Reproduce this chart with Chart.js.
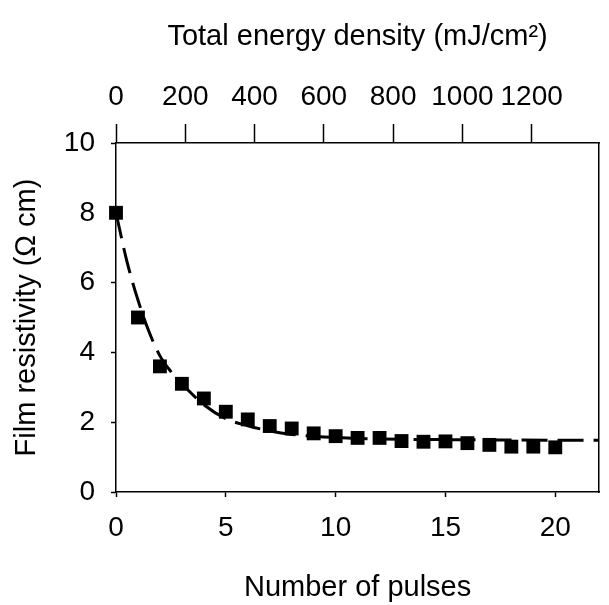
<!DOCTYPE html>
<html>
<head>
<meta charset="utf-8">
<script src="https://cdn.jsdelivr.net/npm/chart.js@4.4.1/dist/chart.umd.min.js"></script>
<style>
  html, body { margin: 0; padding: 0; background: #fff; }
  #wrap { width: 609px; height: 605px; }
</style>
</head>
<body>
<div id="wrap"><canvas id="chart" width="609" height="605"></canvas></div>
<script>
// --- Data ---
const pulses = [0, 1, 2, 3, 4, 5, 6, 7, 8, 9, 10, 11, 12, 13, 14, 15, 16, 17, 18, 19, 20];
const resistivity = [8.0, 5.0, 3.6, 3.1, 2.68, 2.3, 2.08, 1.89, 1.82, 1.68, 1.6,
  1.55, 1.55, 1.46, 1.44, 1.45, 1.4, 1.35, 1.3, 1.3, 1.28];

// dashed fit curve, sampled by eye
const fitX = [0, 0.5, 1, 1.5, 2, 2.5, 3, 4, 5, 6, 7, 8, 10, 12, 15, 18, 22];
const fitY = [8.0, 6.6, 5.5, 4.6, 3.9, 3.45, 3.1, 2.5, 2.1, 1.9, 1.75, 1.65, 1.56, 1.52, 1.5, 1.49, 1.48];

const pulseTicks = [0, 5, 10, 15, 20];
const energyTicks = [0, 200, 400, 600, 800, 1000, 1200];
const resistTicks = [0, 2, 4, 6, 8, 10];

const FONT = "'Liberation Sans', Arial, sans-serif";
const INK = "#000";

const points = pulses.map((p, i) => ({ x: p, y: resistivity[i] }));
const fit = fitX.map((x, i) => ({ x: x, y: fitY[i] }));

// --- fixed axis sizes so the plot box lands where it does in the picture ---
function fixWidth(w) { return (scale) => { scale.width = w; }; }
function fixHeight(h) { return (scale) => { scale.height = h; }; }
const plain = (v) => String(v);

const ctx = document.getElementById("chart").getContext("2d");
new Chart(ctx, {
  type: "scatter",
  data: {
    datasets: [
      {
        label: "Fit",
        data: fit,
        showLine: true,
        borderColor: INK,
        borderWidth: 3,
        borderDash: [26, 10],
        pointRadius: 0,
        tension: 0.4,
        cubicInterpolationMode: "monotone",
        fill: false,
      },
      {
        label: "Film resistivity",
        data: points,
        pointStyle: "rect",
        pointRadius: 9.8,
        backgroundColor: INK,
        borderColor: INK,
        borderWidth: 0,
        clip: false,
      },
    ],
  },
  options: {
    responsive: false,
    animation: false,
    layout: { padding: 0 },
    plugins: { legend: { display: false }, tooltip: { enabled: false } },
    scales: {
      x: {
        type: "linear",
        position: "bottom",
        min: 0,
        max: 22,
        afterFit: fixHeight(113),
        afterBuildTicks: (s) => { s.ticks = pulseTicks.map((v) => ({ value: v })); },
        border: { display: true, color: INK, width: 1.5 },
        grid: { drawOnChartArea: false, drawTicks: true, tickLength: 5, tickWidth: 1.5, tickColor: INK },
        ticks: { color: INK, padding: 14, callback: plain, font: { family: FONT, size: 28 } },
        title: {
          display: true,
          text: "Number of pulses",
          color: INK,
          padding: { top: 0, bottom: 0 },
          font: { family: FONT, size: 29 },
        },
      },
      x2: {
        type: "linear",
        position: "top",
        min: 0,
        max: 1395,
        afterFit: fixHeight(143),
        afterBuildTicks: (s) => { s.ticks = energyTicks.map((v) => ({ value: v })); },
        border: { display: true, color: INK, width: 1.5 },
        grid: { drawOnChartArea: false, drawTicks: true, tickLength: 19, tickWidth: 1.5, tickColor: INK },
        ticks: { color: INK, padding: 10, maxRotation: 0, autoSkip: false, callback: plain, font: { family: FONT, size: 28 } },
        title: {
          display: true,
          text: "Total energy density (mJ/cm²)",
          color: INK,
          padding: { top: 20, bottom: 0 },
          font: { family: FONT, size: 29 },
        },
      },
      y: {
        type: "linear",
        position: "left",
        min: 0,
        max: 10,
        afterFit: fixWidth(116),
        afterBuildTicks: (s) => { s.ticks = resistTicks.map((v) => ({ value: v })); },
        border: { display: true, color: INK, width: 1.5 },
        grid: { drawOnChartArea: false, drawTicks: true, tickLength: 5, tickWidth: 1.5, tickColor: INK },
        ticks: { color: INK, padding: 16, callback: plain, font: { family: FONT, size: 28 } },
        title: {
          display: true,
          text: "Film resistivity (Ω cm)",
          color: INK,
          padding: { top: 10, bottom: 0 },
          font: { family: FONT, size: 29 },
        },
      },
      y2: {
        type: "linear",
        position: "right",
        min: 0,
        max: 10,
        afterFit: fixWidth(2),
        border: { display: true, color: INK, width: 1.5 },
        grid: { drawOnChartArea: false, drawTicks: false },
        ticks: { display: false },
      },
    },
  },
});
</script>
</body>
</html>
